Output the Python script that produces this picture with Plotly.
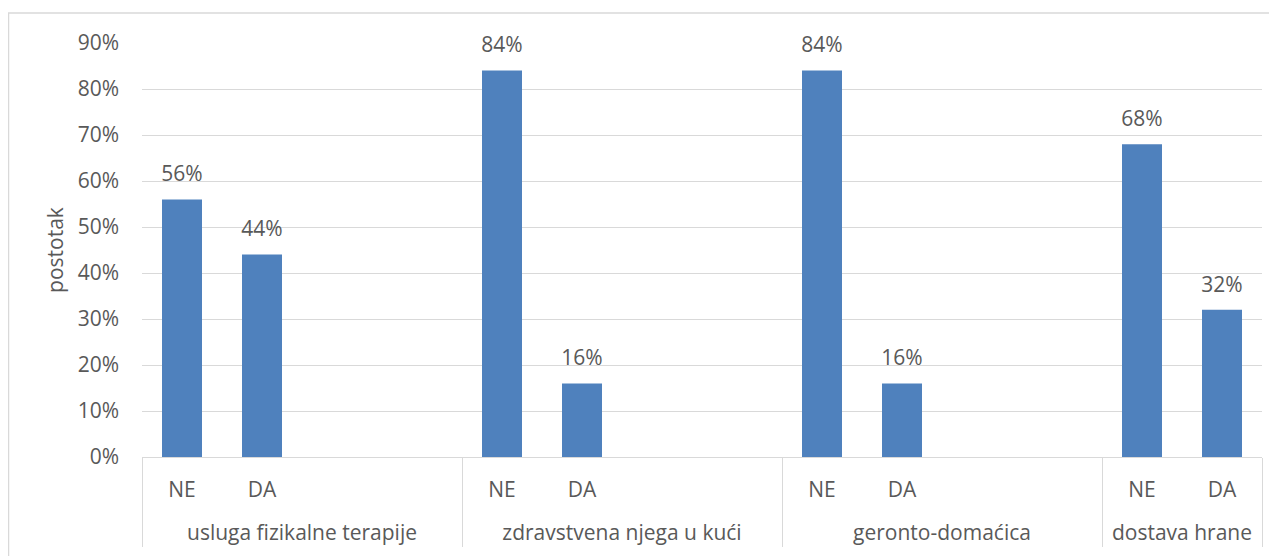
import plotly.graph_objects as go

groups = ["usluga fizikalne terapije"] * 4 + ["zdravstvena njega u kući"] * 4 + ["geronto-domaćica"] * 4 + ["dostava hrane"] * 2
subcats = ["NE", "DA", " ", "  ", "NE", "DA", " ", "  ", "NE", "DA", " ", "  ", "NE", "DA"]
values = [0.56, 0.44, None, None, 0.84, 0.16, None, None, 0.84, 0.16, None, None, 0.68, 0.32]
labels = ["56%", "44%", "", "", "84%", "16%", "", "", "84%", "16%", "", "", "68%", "32%"]
ytick_vals = [0, 0.1, 0.2, 0.3, 0.4, 0.5, 0.6, 0.7, 0.8, 0.9]
ytick_text = ["0%", "10%", "20%", "30%", "40%", "50%", "60%", "70%", "80%", "90%"]

FONT = "Open Sans"
FS = 21
GRAY = "#595959"
LINE = "#D9D9D9"

# primary tick labels get an empty second line so the group row sits lower
sub_display = [s + "<br>\u00a0" if s.strip() else s for s in subcats]

fig = go.Figure()
fig.add_trace(go.Bar(
    x=[groups, sub_display],
    y=values,
    marker=dict(color="#4F81BD", line=dict(width=0)),
    width=0.5,
    hoverinfo="skip",
))
fig.add_trace(go.Scatter(
    x=[groups, sub_display],
    y=values,
    mode="markers+text",
    text=labels,
    textposition="top center",
    textfont=dict(family=FONT, size=FS, color=GRAY),
    marker=dict(size=19, color="rgba(0,0,0,0)"),
    cliponaxis=False,
    hoverinfo="skip",
))

# page body has an 8px margin, so the figure is 8px smaller and offsets shifted
fig.update_layout(
    width=1269, height=548,
    margin=dict(l=134, r=15, t=35, b=99, autoexpand=False),
    paper_bgcolor="white", plot_bgcolor="white",
    font=dict(family=FONT, size=FS, color=GRAY),
    showlegend=False,
    xaxis=dict(
        type="multicategory",
        range=[-0.5, 13.5],
        showline=True, linecolor=LINE, linewidth=1,
        showdividers=True, dividercolor=LINE, dividerwidth=1,
        tickfont=dict(family=FONT, size=FS, color=GRAY),
        ticklabelstandoff=14,
        showgrid=False, ticks="",
        automargin=False,
    ),
    yaxis=dict(
        range=[0, 0.9],
        tickvals=ytick_vals,
        ticktext=ytick_text,
        showgrid=True, gridcolor=LINE, gridwidth=1,
        zeroline=False,
        tickfont=dict(family=FONT, size=FS, color=GRAY),
        ticklabelstandoff=22,
        automargin=False,
        title=dict(text="postotak", font=dict(family=FONT, size=FS, color=GRAY), standoff=8),
    ),
    shapes=[dict(type="rect", xref="paper", yref="paper",
                 x0=-0.1192, x1=1.05, y0=-0.4, y1=1.0725,
                 line=dict(color=LINE, width=1.5), fillcolor="rgba(0,0,0,0)", layer="below")],
)

fig.write_html("out.html")
